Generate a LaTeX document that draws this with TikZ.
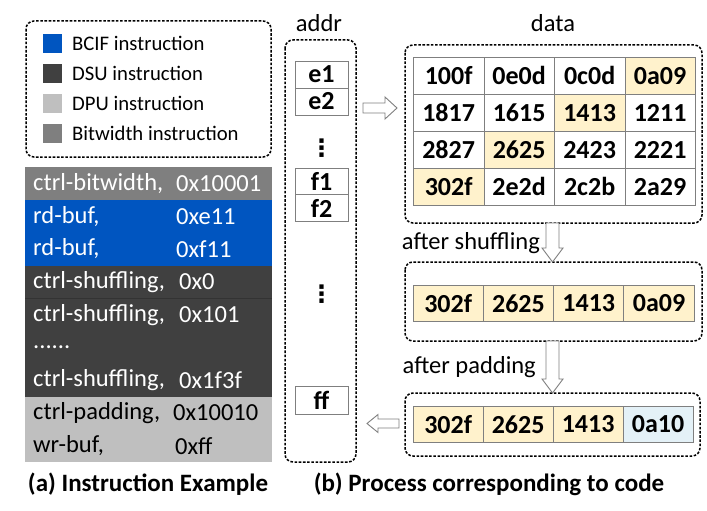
\documentclass[tikz,border=0pt]{standalone}
\usepackage{fontspec}
\setmainfont{Carlito}
\newfontfamily\symfont{DejaVu Sans}
\definecolor{bcif}{HTML}{0055C0}
\definecolor{dsu}{HTML}{404040}
\definecolor{dpu}{HTML}{BFBFBF}
\definecolor{bitw}{HTML}{7F7F7F}
\definecolor{hl}{HTML}{FFF2CC}
\definecolor{pad}{HTML}{E4F1F7}
\definecolor{cellline}{HTML}{7F7F7F}
\begin{document}
\begin{tikzpicture}[x=1pt,y=-1pt,
  dbox/.style={draw=black, line width=1.5pt, dash pattern=on 2.6pt off 1.6pt, rounded corners=8pt},
  txt/.style={font=\fontsize{24.5}{28}\selectfont, inner sep=0pt},
  legtxt/.style={font=\fontsize{20.7}{24}\selectfont, inner sep=0pt, anchor=west},
  itxt/.style={txt, anchor=west},
  cell/.style={draw=cellline, line width=0.8pt, minimum width=70.5pt, minimum height=37pt, inner sep=0pt, anchor=north west, font=\fontsize{26}{30}\selectfont\bfseries},
  abox/.style={draw=cellline, line width=0.8pt, fill=white, minimum width=53pt, minimum height=27pt, inner sep=0pt, font=\fontsize{26}{30}\selectfont\bfseries},
  vdot/.style={font=\symfont\bfseries\fontsize{24}{28}\selectfont, inner sep=0pt},
  harrow/.style={draw=cellline, line width=0.9pt, fill=white},
  leg/.style={minimum width=19pt, minimum height=19pt, inner sep=0pt},
  captxt/.style={font=\fontsize{25}{29}\selectfont\bfseries, inner sep=0pt}
]
\useasboundingbox (0,0) rectangle (707,511);
% ---------- legend ----------
\draw[dbox] (26,21) rectangle (271,157);
\node[leg, fill=bcif] (l1) at (52.5,43.5) {};
\node[leg, fill=dsu] (l2) at (52.5,73.5) {};
\node[leg, fill=dpu] (l3) at (52.5,103.5) {};
\node[leg, fill=bitw] (l4) at (52.5,133) {};
\node[legtxt] (t1) at (72,43.5) {BCIF instruction};
\node[legtxt] (t2) at (72,73.5) {DSU instruction};
\node[legtxt] (t3) at (72,103.5) {DPU instruction};
\node[legtxt] (t4) at (72,133) {Bitwidth instruction};
% ---------- instruction table ----------
\fill[bitw] (25,167) rectangle (272,200);
\fill[bcif] (25,200) rectangle (272,265.6);
\fill[dsu] (25,265.6) rectangle (272,396.8);
\fill[dpu] (25,396.8) rectangle (272,462);
\draw[black!80, line width=0.4pt] (25,298.4) -- (272,298.4);
\begin{scope}[every node/.append style={itxt}]
\node[text=white] (i1) at (33,183.4) {ctrl-bitwidth,};  \node[text=white] (v1) at (176,183.4) {0x10001};
\node[text=white] (i2) at (33,216.2) {rd-buf,};         \node[text=white] (v2) at (176,216.2) {0xe11};
\node[text=white] (i3) at (33,249)   {rd-buf,};         \node[text=white] (v3) at (176,249)   {0xf11};
\node[text=white] (i4) at (33,281.8) {ctrl-shuffling,}; \node[text=white] (v4) at (179,281.8) {0x0};
\node[text=white] (i5) at (33,314.6) {ctrl-shuffling,}; \node[text=white] (v5) at (179,314.6) {0x101};
\node[text=white] (i6) at (33,347.4) {......};
\node[text=white] (i7) at (33,380.2) {ctrl-shuffling,}; \node[text=white] (v7) at (179,380.2) {0x1f3f};
\node[text=black] (i8) at (33,413)   {ctrl-padding,};   \node[text=black] (v8) at (173,413)   {0x10010};
\node[text=black] (i9) at (33,445.8) {wr-buf,};         \node[text=black] (v9) at (175,445.8) {0xff};
\end{scope}
\node[captxt] (capa) at (148,484) {(a) Instruction Example};
% ---------- addr column ----------
\node[txt] (addrlbl) at (319,23) {addr};
\draw[dbox] (285,40) rectangle (356,462);
\node[abox] (e1) at (321.5,74.5) {e1};
\node[abox] (e2) at (321.5,101.5) {e2};
\node[vdot] (d1) at (321.5,148) {⋮};
\node[abox] (f1) at (321.5,181.5) {f1};
\node[abox] (f2) at (321.5,208) {f2};
\node[vdot] (d2) at (321.5,294) {⋮};
\node[abox, minimum height=28pt] (ff) at (321.5,400) {ff};
% ---------- data ----------
\node[txt] (datalbl) at (553,23) {data};
\draw[dbox] (405,45) rectangle (702,223);
\foreach \r/\a/\b/\c/\d in {0/100f/0e0d/0c0d/0a09, 1/1817/1615/1413/1211, 2/2827/2625/2423/2221, 3/302f/2e2d/2c2b/2a29}{
  \node[cell] (c\r0) at (413,57+37*\r) {\a};
  \node[cell] (c\r1) at (483.5,57+37*\r) {\b};
  \node[cell] (c\r2) at (554,57+37*\r) {\c};
  \node[cell] (c\r3) at (624.5,57+37*\r) {\d};
}
\node[cell, fill=hl] (h1) at (c03.north west) {0a09};
\node[cell, fill=hl] (h2) at (c12.north west) {1413};
\node[cell, fill=hl] (h3) at (c21.north west) {2625};
\node[cell, fill=hl] (h4) at (c30.north west) {302f};
% after shuffling
\node[txt, anchor=east] (lshuf) at (540,243) {after shuffling};
\draw[dbox] (405,262) rectangle (702,341);
\foreach \i/\v in {0/302f,1/2625,2/1413,3/0a09}{
  \node[cell, fill=hl, minimum height=36pt] (s\i) at (412.5+70.3*\i,285) {\v};
}
% after padding
\node[txt, anchor=east] (lpad) at (536,367) {after padding};
\draw[dbox] (405,393) rectangle (700,456);
\foreach \i/\v/\f in {0/302f/hl,1/2625/hl,2/1413/hl,3/0a10/pad}{
  \node[cell, fill=\f, minimum height=36pt] (p\i) at (412.5+70*\i,406) {\v};
}
% ---------- hollow arrows ----------
\coordinate (ar) at (363,108);
\draw[harrow] (ar) ++(0,-5) -- ++(22,0) -- ++(0,-6) -- ++(12,11) -- ++(-12,11) -- ++(0,-6) -- ++(-22,0) -- cycle;
\coordinate (ad1) at (552.5,223);
\draw[harrow] (ad1) ++(-6.5,0) -- ++(0,25) -- ++(-4,0) -- ++(10.5,14) -- ++(10.5,-14) -- ++(-4,0) -- ++(0,-25) -- cycle;
\coordinate (ad2) at (552.5,341);
\draw[harrow] (ad2) ++(-6.5,0) -- ++(0,38) -- ++(-4,0) -- ++(10.5,14) -- ++(10.5,-14) -- ++(-4,0) -- ++(0,-38) -- cycle;
\coordinate (al) at (399,423.5);
\draw[harrow] (al) ++(0,-4.5) -- ++(-21,0) -- ++(0,-4.5) -- ++(-11,9) -- ++(11,9) -- ++(0,-4.5) -- ++(21,0) -- cycle;
% caption b
\node[captxt] (capb) at (489,484) {(b) Process corresponding to code};
\end{tikzpicture}
\end{document}
